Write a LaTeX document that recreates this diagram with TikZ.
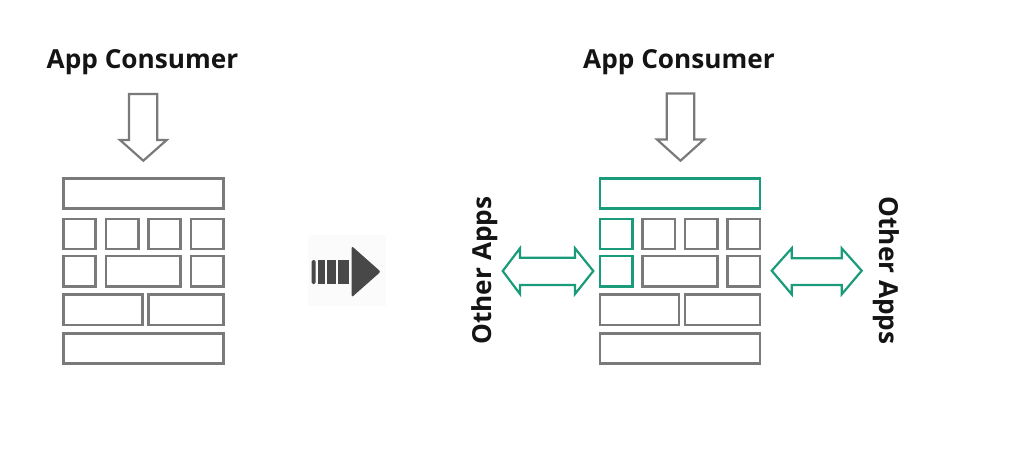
\documentclass[tikz,border=0pt]{standalone}
\usepackage{fontspec}
\setmainfont{Open Sans}
\definecolor{boxgray}{RGB}{122,122,122}
\definecolor{teal}{RGB}{26,155,122}
\definecolor{darkarrow}{RGB}{72,72,72}
\definecolor{txt}{RGB}{20,20,20}
\begin{document}
\begin{tikzpicture}[x=1pt,y=-1pt,
  brick/.style={draw=boxgray,line width=2.6pt},
  gbrick/.style={draw=teal,line width=2.6pt},
  outarrow/.style={draw=boxgray,line width=2.2pt,line join=miter},
  garrow/.style={draw=teal,line width=2.2pt,line join=miter},
  label/.style={font=\fontsize{26.2}{30}\selectfont\bfseries,text=txt,inner sep=0pt}]
\useasboundingbox (0,0) rectangle (1024,474);
% left stack
\begin{scope}
\draw[brick] (63.3,178.3) rectangle (223.3,208.3);
\draw[brick] (63.3,219) rectangle (95.7,249);
\draw[brick] (106,219) rectangle (138.3,249);
\draw[brick] (148.3,219) rectangle (180.7,249);
\draw[brick] (191,219) rectangle (223.3,249);
\draw[brick] (63.3,256) rectangle (95.7,286.7);
\draw[brick] (106,256) rectangle (180.7,286.7);
\draw[brick] (191,256) rectangle (223.3,286.7);
\draw[brick] (63.3,294.3) rectangle (142.3,325);
\draw[brick] (148.3,294.3) rectangle (223.3,325);
\draw[brick] (63.3,333.3) rectangle (223.3,363.3);
\end{scope}
% right stack
\begin{scope}[xshift=536.7pt]
\draw[brick] (106,219) rectangle (138.3,249);
\draw[brick] (148.3,219) rectangle (180.7,249);
\draw[brick] (191,219) rectangle (223.3,249);
\draw[brick] (106,256) rectangle (180.7,286.7);
\draw[brick] (191,256) rectangle (223.3,286.7);
\draw[brick] (63.3,294.3) rectangle (142.3,325);
\draw[brick] (148.3,294.3) rectangle (223.3,325);
\draw[brick] (63.3,333.3) rectangle (223.3,363.3);
\draw[gbrick] (63.3,178.3) rectangle (223.3,208.3);
\draw[gbrick] (63.3,219) rectangle (95.7,249);
\draw[gbrick] (63.3,256) rectangle (95.7,286.7);
\end{scope}
% labels
\node[label,anchor=base] (consL) at (142.5,68.5) {App Consumer};
\node[label,anchor=base] (consR) at (679,68.5) {App Consumer};
\node[label,rotate=90] (otherL) at (485,270.5) {Other Apps};
\node[label,rotate=-90] (otherR) at (886.5,270.5) {Other Apps};
% down arrows
\draw[outarrow] (129,94) -- (157.3,94) -- (157.3,140) -- (166.7,140) -- (143.3,160.7) -- (120,140) -- (129,140) -- cycle;
\draw[outarrow] (666.7,93.5) -- (694.3,93.5) -- (694.3,139.5) -- (704,139.5) -- (680.5,160.7) -- (657,139.5) -- (666.7,139.5) -- cycle;
% double arrows
\draw[garrow] (502.7,271) -- (520,248.3) -- (520,257.7) -- (575,257.7) -- (575,248.3) -- (593.3,271) -- (575,294) -- (575,285) -- (520,285) -- (520,294) -- cycle;
\draw[garrow] (771.7,270.7) -- (791.7,248.3) -- (791.7,258.3) -- (841.7,258.3) -- (841.7,248.3) -- (861.7,270.7) -- (841.7,294.3) -- (841.7,285) -- (791.7,285) -- (791.7,294.3) -- cycle;
% middle transition arrow
\fill[gray!3] (308,235) rectangle (386,306);
\fill[darkarrow,rounded corners=1.5pt] (311.7,260) rectangle (315.7,284);
\fill[darkarrow] (318.3,260) rectangle (325,284);
\fill[darkarrow] (327.3,260) rectangle (336,284);
\fill[darkarrow] (338.3,260) rectangle (349.3,284);
\fill[darkarrow,rounded corners=2pt] (351.7,246) -- (380.7,271.7) -- (351.7,297.3) -- cycle;
\end{tikzpicture}
\end{document}
